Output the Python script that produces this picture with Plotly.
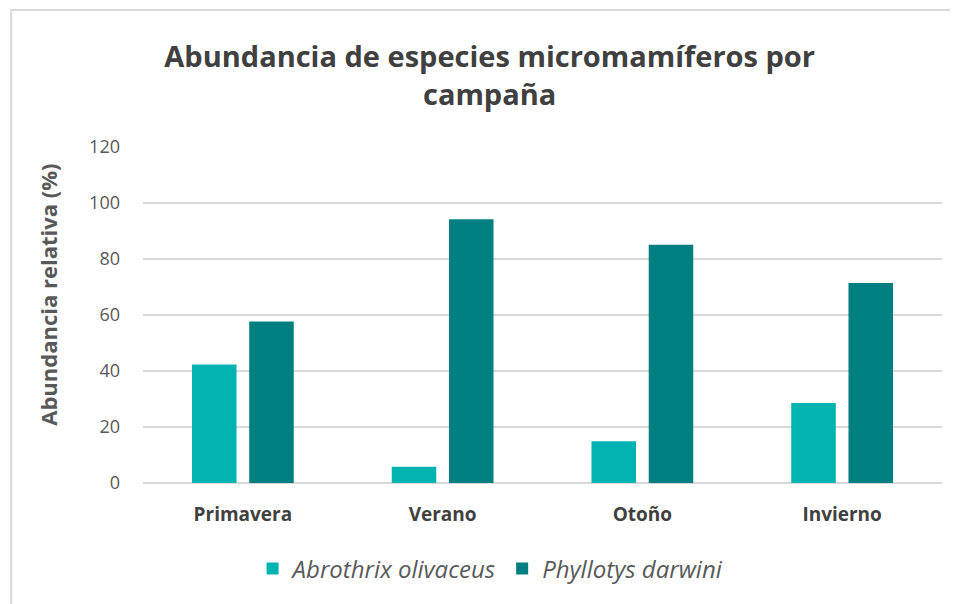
import plotly.graph_objects as go

# datos
campanas = ['Primavera', 'Verano', 'Otoño', 'Invierno']
abrothrix = [42.3, 5.8, 14.9, 28.6]
phyllotys = [57.7, 94.2, 85.1, 71.4]
y_ticks = [0, 20, 40, 60, 80, 100, 120]

FONT = 'Open Sans'

fig = go.Figure()

fig.add_trace(go.Bar(
    x=campanas, y=abrothrix,
    name='<i>Abrothrix olivaceus</i>',
    marker=dict(color='#00B2B0', line=dict(width=0))
))
fig.add_trace(go.Bar(
    x=campanas, y=phyllotys,
    name='<i>Phyllotys darwini</i>',
    marker=dict(color='#007F80', line=dict(width=0))
))

# título del eje Y como anotación
fig.add_annotation(
    text='<b>Abundancia relativa (%)</b>',
    xref='paper', yref='paper',
    x=-0.119, y=0.56,
    xanchor='center', yanchor='middle',
    textangle=-90, showarrow=False,
    font=dict(family=FONT, size=22, color='#595959')
)

# borde del área del gráfico
fig.add_shape(
    type='rect', xref='paper', yref='paper',
    x0=-0.165, x1=1.05, y0=-0.5, y1=1.408,
    line=dict(color='#D9D9D9', width=2),
    layer='below'
)

fig.update_layout(
    width=950, height=596,
    paper_bgcolor='white',
    plot_bgcolor='white',
    font=dict(family=FONT, color='#595959'),
    title=dict(
        text='<b>Abundancia de especies micromamíferos por<br>campaña</b>',
        x=0.507, xanchor='center',
        y=0.9005, yanchor='middle',
        font=dict(family=FONT, size=29, color='#404040')
    ),
    barmode='group',
    bargap=0.427,
    bargroupgap=0.222,
    margin=dict(l=135, r=16, t=139, b=121),
    legend=dict(
        orientation='h',
        x=0.435, xanchor='center',
        y=-0.256, yanchor='middle',
        font=dict(family=FONT, size=24, color='#595959'),
        itemwidth=30,
        traceorder='normal'
    ),
    xaxis=dict(
        showgrid=False,
        showline=False,
        tickfont=dict(family=FONT, size=19, color='#404040'),
        ticklabelstandoff=18,
        tickprefix='<b>', ticksuffix='</b>'
    ),
    yaxis=dict(
        range=[0, 120],
        tickvals=y_ticks,
        showgrid=True,
        gridcolor='#D9D9D9',
        gridwidth=1.5,
        zeroline=True,
        zerolinecolor='#D9D9D9',
        zerolinewidth=1.5,
        tickfont=dict(family=FONT, size=18, color='#595959'),
        ticklabelstandoff=22
    ),
    showlegend=True
)

fig.write_html('out.html')
